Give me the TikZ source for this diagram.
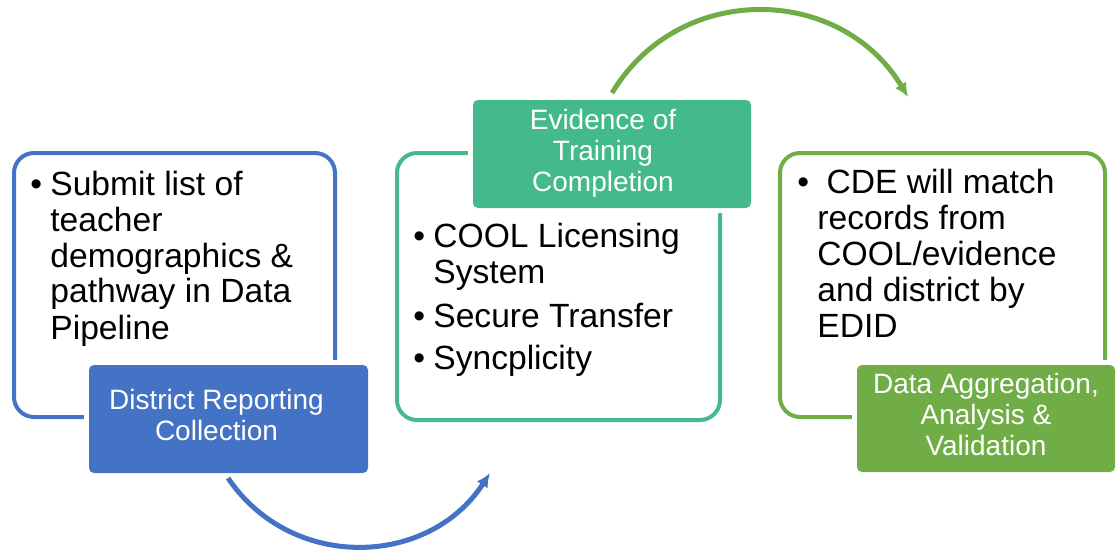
\documentclass[tikz,border=0pt]{standalone}
\usepackage{fontspec}
\setmainfont{Liberation Sans}
\usepackage{array}
\usetikzlibrary{positioning}
\usetikzlibrary{arrows.meta}
\usetikzlibrary{calc}
\definecolor{cblue}{HTML}{4472C4}
\definecolor{cteal}{HTML}{44BA8C}
\definecolor{cgreen}{HTML}{70AD47}
\tikzset{>={Latex[length=7pt,width=6.5pt]}}
\tikzstyle{stagebox}=[line width=2pt,rounded corners=10pt,fill=white,inner sep=0pt]
\tikzstyle{stagelabel}=[text=white,rounded corners=2.5pt,inner sep=0pt,font=\fontsize{14}{15.5}\selectfont,preaction={draw=white,line width=5pt}]
\tikzstyle{stagetext}=[anchor=base west,inner sep=0pt,font=\fontsize{16.8}{18}\selectfont]
\tikzstyle{flow}=[->,line width=2.5pt]

\begin{document}
\begin{tikzpicture}[x=0.5pt,y=0.5pt]
	\useasboundingbox (0,0) rectangle (1119,553);
	
	% District reporting
	\node[stagebox,draw=cblue,minimum width=160.5pt,minimum height=132pt] (collbox) at (174.5,268) {};
	\node[stagetext] (colltext) at (30,358) {\begin{tabular}[t]{@{}p{10pt}@{}l@{}}
		\textbullet & Submit list of\\
		& teacher\\
		& demographics \&\\
		& pathway in Data\\
		& Pipeline
	\end{tabular}};
	\node[stagelabel,fill=cblue,minimum width=139.5pt,minimum height=54pt] (colllabel) at (228.5,134) {\begin{tabular}{@{}c@{}}District Reporting\\Collection\end{tabular}\hspace*{12pt}};
	
	% Evidence
	\node[stagebox,draw=cteal,minimum width=161.5pt,minimum height=133.5pt] (evidbox) at (558.5,266.5) {};
	\node[stagetext] (evidtext) at (413,306) {\begin{tabular}[t]{@{}p{10pt}@{}l@{}}
		\textbullet & COOL Licensing\\
		& System\\[4pt]
		\textbullet & Secure Transfer\\[3pt]
		\textbullet & Syncplicity
	\end{tabular}};
	\node[stagelabel,fill=cteal,minimum width=139pt,minimum height=54pt] (evidlabel) at (612,399) {\begin{tabular}{@{}c@{}}Evidence of\\Training\\Completion\end{tabular}\hspace*{9pt}};
	
	% Aggregation
	\node[stagebox,draw=cgreen,minimum width=162.5pt,minimum height=132pt] (aggbox) at (942.5,268) {};
	\node[stagetext] (aggtext) at (797,360) {\begin{tabular}[t]{@{}p{10pt}@{}l@{}}
		\textbullet & \ CDE will match\\
		& records from\\
		& COOL/evidence\\
		& and district by\\
		& EDID
	\end{tabular}};
	\node[stagelabel,fill=cgreen,minimum width=129pt,minimum height=53.5pt] (agglabel) at (986,134.5) {\begin{tabular}{@{}c@{}}Data Aggregation,\\Analysis \&\\Validation\end{tabular}};
	
	% Arcs
	\coordinate (blues) at (228,75);
	\coordinate (bluee) at (490,80);
	\draw[flow,cblue] (blues) to[out=-56,in=-123,looseness=1.1] (bluee);
	\coordinate (greens) at (612,460);
	\coordinate (greene) at (908,456);
	\draw[flow,cgreen] (greens) to[out=59,in=121,looseness=1.13] (greene);
	
\end{tikzpicture}
\end{document}
